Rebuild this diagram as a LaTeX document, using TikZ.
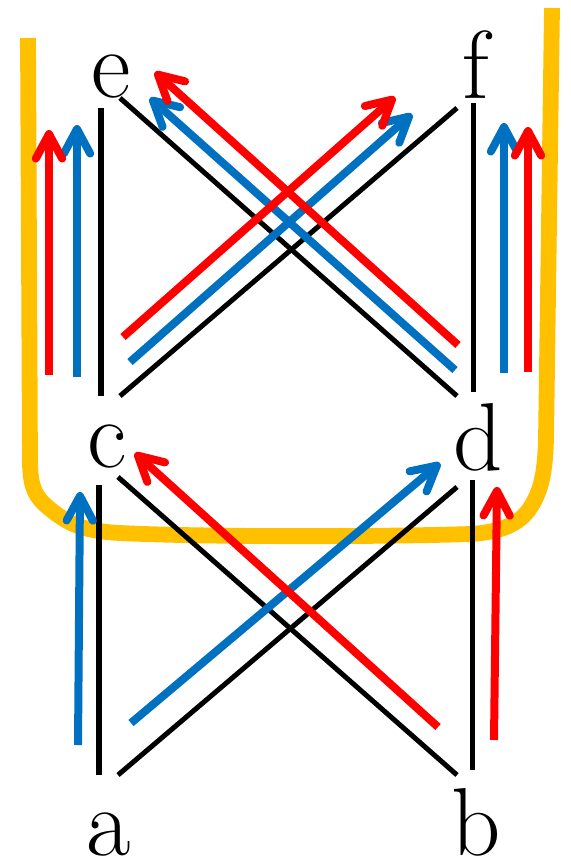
\documentclass[tikz,border=0pt]{standalone}
\usepackage{fontspec}
\usetikzlibrary{arrows.meta}
\definecolor{ored}{HTML}{FF0000}
\definecolor{oblue}{HTML}{0070C0}
\definecolor{ogold}{HTML}{FFC000}
\begin{document}
\begin{tikzpicture}[x=0.02cm,y=-0.02cm,
  lbl/.style={anchor=base,inner sep=0pt,font=\rmfamily\fontsize{55}{55}\selectfont},
  blk/.style={draw=black,line width=2.85pt},
  flow/.style={line width=4.55pt,-{Straight Barb[length=14pt,width=15pt,round]}},
  rflow/.style={flow,draw=ored},
  bflow/.style={flow,draw=oblue},
  band/.style={draw=ogold,line width=9pt,line join=round}]
\useasboundingbox (0,0) rectangle (571,866);
% labels
\node[lbl] (e) at (111,97) {e};
\node[lbl] (f) at (476,98) {f};
\node[lbl] (c) at (107,467) {c};
\node[lbl] (d) at (478,470) {d};
\node[lbl] (a) at (109,855) {a};
\node[lbl] (b) at (476,855) {b};
% orange band
\coordinate (gL) at (28,38);
\coordinate (gR) at (552,8);
\draw[band] (gL) -- (30,465) .. controls (31,488) and (35,497) .. (50,509)
  .. controls (66,522) and (80,531) .. (120,533)
  .. controls (200,537) and (380,537) .. (470,534)
  .. controls (505,532) and (522,522) .. (532,505)
  .. controls (542,488) and (545,470) .. (546,440) -- (gR);
% upper black lines
\coordinate (e1) at (101,108); \coordinate (c1) at (101,396);
\coordinate (f1) at (473,103); \coordinate (d1) at (473,392);
\coordinate (e2) at (120,98);  \coordinate (d2) at (457,396);
\coordinate (c2) at (120,396); \coordinate (f2) at (457,108);
\draw[blk] (c1) -- (e1);
\draw[blk] (d1) -- (f1);
\draw[blk] (e2) -- (d2);
\draw[blk] (c2) -- (f2);
% lower black lines
\coordinate (c3) at (99,485);  \coordinate (a3) at (99,775);
\coordinate (d3) at (472,480); \coordinate (b3) at (472,770);
\coordinate (c4) at (118,477); \coordinate (b4) at (457,775);
\coordinate (a4) at (118,775); \coordinate (d4) at (457,487);
\draw[blk] (a3) -- (c3);
\draw[blk] (b3) -- (d3);
\draw[blk] (c4) -- (b4);
\draw[blk] (a4) -- (d4);
% upper flows
\coordinate (u1s) at (49,375);  \coordinate (u1t) at (49,130);
\coordinate (u2s) at (77,377);  \coordinate (u2t) at (77,125);
\coordinate (u3s) at (458,345); \coordinate (u3t) at (155,72);
\coordinate (u4s) at (455,370); \coordinate (u4t) at (150,98);
\coordinate (u5s) at (123,337); \coordinate (u5t) at (395,97);
\coordinate (u6s) at (130,362); \coordinate (u6t) at (412,114);
\coordinate (u7s) at (504,373); \coordinate (u7t) at (504,123);
\coordinate (u8s) at (528,372); \coordinate (u8t) at (528,127);
\draw[bflow] (u2s) -- (u2t);
\draw[rflow] (u1s) -- (u1t);
\draw[bflow] (u4s) -- (u4t);
\draw[bflow] (u6s) -- (u6t);
\draw[rflow] (u3s) -- (u3t);
\draw[rflow] (u5s) -- (u5t);
\draw[bflow] (u7s) -- (u7t);
\draw[rflow] (u8s) -- (u8t);
% lower flows
\coordinate (l1s) at (78,745);  \coordinate (l1t) at (80,492);
\coordinate (l2s) at (131,723); \coordinate (l2t) at (440,463);
\coordinate (l3s) at (438,727); \coordinate (l3t) at (135,453);
\coordinate (l4s) at (494,740); \coordinate (l4t) at (497,487);
\draw[bflow] (l1s) -- (l1t);
\draw[bflow] (l2s) -- (l2t);
\draw[rflow] (l3s) -- (l3t);
\draw[rflow] (l4s) -- (l4t);
\end{tikzpicture}
\end{document}
